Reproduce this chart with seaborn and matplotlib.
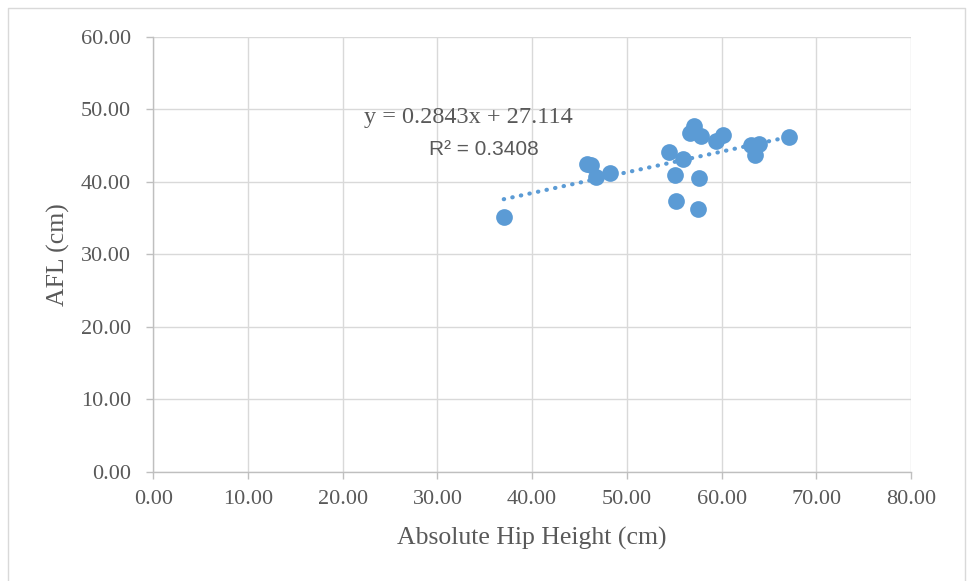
import numpy as np
import pandas as pd
import matplotlib
matplotlib.use("Agg")
import matplotlib.pyplot as plt
from matplotlib.lines import Line2D
import seaborn as sns

hip_height = [37.0, 45.8, 46.2, 46.7, 48.2, 54.4, 55.9, 55.1, 55.2, 57.5, 57.6,
              57.1, 56.7, 57.8, 59.4, 60.2, 63.1, 64.0, 63.5, 67.1]
afl = [35.1, 42.4, 42.3, 40.7, 41.2, 44.1, 43.2, 40.9, 37.4, 36.2, 40.5,
       47.7, 46.7, 46.3, 45.6, 46.5, 45.1, 45.2, 43.7, 46.1]
x_ticks = [0, 10, 20, 30, 40, 50, 60, 70, 80]
y_ticks = [0, 10, 20, 30, 40, 50, 60]
eq_label = "y = 0.2843x + 27.114"
r2_label = "R² = 0.3408"

df = pd.DataFrame({"x": hip_height, "y": afl})

sns.set_theme(style="white")
plt.rcParams['font.family'] = ['Liberation Serif', 'DejaVu Serif']

W, H = 967, 581
fig = plt.figure(figsize=(W / 100, H / 100), dpi=100)
L, R, T, B = 153.3, 911, 36.7, 471.7
ax = fig.add_axes([L / W, 1 - B / H, (R - L) / W, (B - T) / H])

blue = "#5B9BD5"
grey = "#595959"
# trendline
coef = np.polyfit(df["x"], df["y"], 1)
xs = np.linspace(df["x"].min(), df["x"].max(), 50)
ax.plot(xs, np.polyval(coef, xs), linestyle=(0, (0.1, 2.0)), color=blue,
        linewidth=3, dash_capstyle="round", zorder=2)
sns.scatterplot(data=df, x="x", y="y", ax=ax, color=blue, s=145,
                edgecolor=blue, linewidth=0, zorder=3)

ax.set_xlim(0, 80)
ax.set_ylim(0, 60)
ax.set_xticks(x_ticks)
ax.set_yticks(y_ticks)
ax.set_xticklabels([f"{v:.2f}" for v in x_ticks])
ax.set_yticklabels([f"{v:.2f}" for v in y_ticks])
ax.grid(True, color="#D9D9D9", linewidth=1)
ax.set_axisbelow(True)
for s in ["top", "right"]:
    ax.spines[s].set_visible(False)
for s in ["left", "bottom"]:
    ax.spines[s].set_color("#BFBFBF")
    ax.spines[s].set_linewidth(1)
ax.tick_params(axis="both", which="both", direction="out", length=5, width=1,
               color="#BFBFBF", labelsize=16, labelcolor=grey)
ax.tick_params(axis="y", pad=11)
ax.tick_params(axis="x", pad=8)
ax.tick_params(left=True, bottom=True)
ax.set_xlabel("Absolute Hip Height (cm)", fontsize=18.5, color=grey)
ax.set_ylabel("AFL (cm)", fontsize=18.5, color=grey)
ax.xaxis.label.set_va("center")
ax.yaxis.label.set_va("center")
ax.xaxis.set_label_coords(0.5, -(538 - B) / (B - T))
ax.yaxis.set_label_coords((58 - L) / (R - L), 0.5)

ax.text(33.3, 48.8, eq_label, fontsize=17.5, color=grey, ha="center", va="center")
ax.text(34.9, 44.5, r2_label, fontsize=15, color=grey, ha="center", va="center",
        family=["Liberation Sans", "DejaVu Sans"])

# outer chart border (left, top, right)
bx0, bx1, by0 = 7.5 / W, 965 / W, 1 - 8 / H
fig.lines.append(Line2D([bx0, bx0, bx1, bx1], [0, by0, by0, 0], transform=fig.transFigure,
                        color="#D9D9D9", linewidth=1))

fig.savefig("out.png", dpi=100)
